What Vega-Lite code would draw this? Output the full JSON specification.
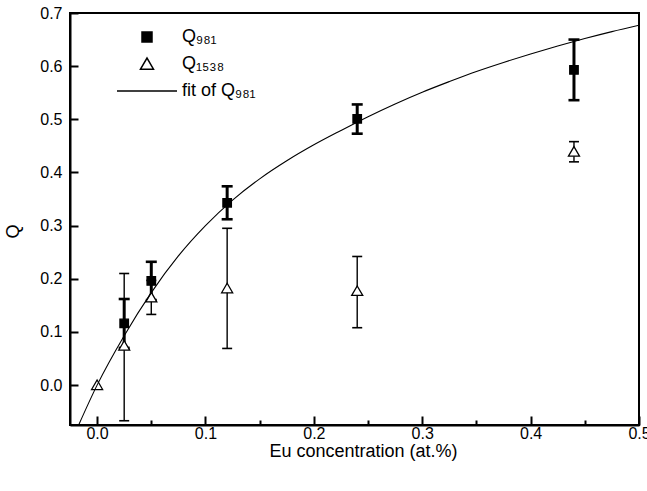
{
  "$schema": "https://vega.github.io/schema/vega-lite/v6.json",
  "width": 569,
  "height": 412,
  "autosize": {"type": "none"},
  "padding": {"left": 70, "top": 13, "right": 8, "bottom": 66},
  "background": "white",
  "datasets": {
    "pts": [
      {"series": "Q₉₈₁", "x": 0.025, "q": 0.116, "lo": 0.07, "hi": 0.162},
      {"series": "Q₉₈₁", "x": 0.05, "q": 0.196, "lo": 0.16, "hi": 0.232},
      {"series": "Q₉₈₁", "x": 0.12, "q": 0.343, "lo": 0.312, "hi": 0.374},
      {"series": "Q₉₈₁", "x": 0.24, "q": 0.501, "lo": 0.473, "hi": 0.528},
      {"series": "Q₉₈₁", "x": 0.44, "q": 0.593, "lo": 0.536, "hi": 0.65},
      {"series": "Q₁₅₃₈", "x": 0.0, "q": 0.0, "lo": null, "hi": null},
      {"series": "Q₁₅₃₈", "x": 0.025, "q": 0.074, "lo": -0.067, "hi": 0.21},
      {"series": "Q₁₅₃₈", "x": 0.05, "q": 0.165, "lo": 0.133, "hi": 0.197},
      {"series": "Q₁₅₃₈", "x": 0.12, "q": 0.182, "lo": 0.069, "hi": 0.295},
      {"series": "Q₁₅₃₈", "x": 0.24, "q": 0.177, "lo": 0.108, "hi": 0.242},
      {"series": "Q₁₅₃₈", "x": 0.44, "q": 0.439, "lo": 0.42, "hi": 0.458}
    ],
    "fit": [
      {"x": -0.017, "q": -0.075},
      {"x": 0.0, "q": 0.0},
      {"x": 0.025, "q": 0.093},
      {"x": 0.05, "q": 0.174},
      {"x": 0.075, "q": 0.243},
      {"x": 0.1, "q": 0.3},
      {"x": 0.125, "q": 0.348},
      {"x": 0.15, "q": 0.388},
      {"x": 0.175, "q": 0.422},
      {"x": 0.2, "q": 0.452},
      {"x": 0.225, "q": 0.479},
      {"x": 0.25, "q": 0.505},
      {"x": 0.275, "q": 0.529},
      {"x": 0.3, "q": 0.551},
      {"x": 0.325, "q": 0.571},
      {"x": 0.35, "q": 0.59},
      {"x": 0.375, "q": 0.607},
      {"x": 0.4, "q": 0.623},
      {"x": 0.425, "q": 0.638},
      {"x": 0.45, "q": 0.652},
      {"x": 0.475, "q": 0.665},
      {"x": 0.5, "q": 0.677}
    ]
  },
  "encoding": {
    "x": {
      "field": "x", "type": "quantitative",
      "scale": {"domain": [-0.025, 0.5], "nice": false, "zero": false},
      "axis": {
        "title": "Eu concentration (at.%)",
        "values": [0, 0.05, 0.1, 0.15, 0.2, 0.25, 0.3, 0.35, 0.4, 0.45, 0.5],
        "labelExpr": "round(datum.value*20) % 2 == 0 ? format(datum.value, '.1f') : ''",
        "tickSize": {"condition": {"test": "round(datum.value*20) % 2 == 1", "value": -5}, "value": -9},
        "labelPadding": 9,
        "titleX": 293,
        "titleY": 26,
        "titleBaseline": "middle"
      }
    },
    "y": {
      "field": "q", "type": "quantitative",
      "scale": {"domain": [-0.075, 0.7], "nice": false, "zero": false},
      "axis": {
        "title": "Q",
        "values": [0, 0.1, 0.2, 0.3, 0.4, 0.5, 0.6, 0.7],
        "format": ".1f",
        "tickSize": -8,
        "labelPadding": 16,
        "titleAngle": -90,
        "titleX": -57,
        "titleY": 218,
        "titleAlign": "center",
        "titleBaseline": "middle"
      }
    }
  },
  "layer": [
    {
      "data": {"name": "pts"},
      "transform": [{"filter": "datum.series == 'Q₁₅₃₈'"}],
      "mark": {"type": "rule", "color": "black", "strokeWidth": 1.4},
      "encoding": {"y": {"field": "lo", "type": "quantitative"}, "y2": {"field": "hi"}}
    },
    {
      "data": {"name": "pts"},
      "transform": [{"filter": "datum.series == 'Q₁₅₃₈'"}],
      "mark": {"type": "tick", "orient": "horizontal", "color": "black", "size": 10, "thickness": 1.6, "opacity": 1},
      "encoding": {"y": {"field": "lo", "type": "quantitative"}}
    },
    {
      "data": {"name": "pts"},
      "transform": [{"filter": "datum.series == 'Q₁₅₃₈'"}],
      "mark": {"type": "tick", "orient": "horizontal", "color": "black", "size": 10, "thickness": 1.6, "opacity": 1},
      "encoding": {"y": {"field": "hi", "type": "quantitative"}}
    },
    {
      "data": {"name": "pts"},
      "transform": [{"filter": "datum.series == 'Q₉₈₁'"}],
      "mark": {"type": "rule", "color": "black", "strokeWidth": 3},
      "encoding": {"y": {"field": "lo", "type": "quantitative"}, "y2": {"field": "hi"}}
    },
    {
      "data": {"name": "pts"},
      "transform": [{"filter": "datum.series == 'Q₉₈₁'"}],
      "mark": {"type": "tick", "orient": "horizontal", "color": "black", "size": 11, "thickness": 2.6, "opacity": 1},
      "encoding": {"y": {"field": "lo", "type": "quantitative"}}
    },
    {
      "data": {"name": "pts"},
      "transform": [{"filter": "datum.series == 'Q₉₈₁'"}],
      "mark": {"type": "tick", "orient": "horizontal", "color": "black", "size": 11, "thickness": 2.6, "opacity": 1},
      "encoding": {"y": {"field": "hi", "type": "quantitative"}}
    },
    {
      "data": {"name": "pts"},
      "mark": {"type": "point", "filled": true, "stroke": "black", "strokeWidth": 1.3, "size": 72, "opacity": 1},
      "encoding": {
        "shape": {
          "field": "series", "type": "nominal",
          "scale": {
            "domain": ["Q₉₈₁", "Q₁₅₃₈", "fit of Q₉₈₁"],
            "range": ["square", "M-1.3,1.04L0,-1.2L1.3,1.04Z", "M-6,0H6"]
          },
          "legend": {
            "title": null,
            "orient": "none",
            "legendX": 68,
            "legendY": 15,
            "padding": 0,
            "labelFont": "Liberation Sans",
            "labelFontSize": 18,
            "labelOffset": 26,
            "rowPadding": 9,
            "symbolOpacity": 1,
            "encode": {
              "symbols": {
                "update": {
                  "stroke": {"value": "black"},
                  "strokeWidth": {"value": 1.3},
                  "opacity": {"value": 1}
                }
              }
            }
          }
        },
        "fill": {
          "field": "series", "type": "nominal",
          "scale": {
            "domain": ["Q₉₈₁", "Q₁₅₃₈", "fit of Q₉₈₁"],
            "range": ["black", "white", "transparent"]
          },
          "legend": {
            "title": null,
            "orient": "none",
            "legendX": 68,
            "legendY": 15,
            "padding": 0,
            "labelFont": "Liberation Sans",
            "labelFontSize": 18,
            "labelOffset": 26,
            "rowPadding": 9,
            "symbolOpacity": 1,
            "encode": {
              "symbols": {
                "update": {
                  "stroke": {"value": "black"},
                  "strokeWidth": {"value": 1.3},
                  "opacity": {"value": 1}
                }
              }
            }
          }
        }
      }
    },
    {
      "data": {"name": "fit"},
      "mark": {"type": "line", "color": "black", "strokeWidth": 1.1, "interpolate": "monotone", "clip": true},
      "encoding": {}
    }
  ],
  "config": {
    "font": "Liberation Sans",
    "view": {"stroke": "black", "strokeWidth": 2},
    "axis": {
      "grid": false,
      "domainColor": "black",
      "domainWidth": 2,
      "tickColor": "black",
      "tickWidth": 2,
      "labelFont": "Liberation Sans",
      "labelFontSize": 16,
      "labelColor": "black",
      "labelOverlap": false,
      "labelFlush": false,
      "titleFont": "Liberation Sans",
      "titleFontSize": 18,
      "titleFontWeight": "normal",
      "titleColor": "black"
    }
  }
}
